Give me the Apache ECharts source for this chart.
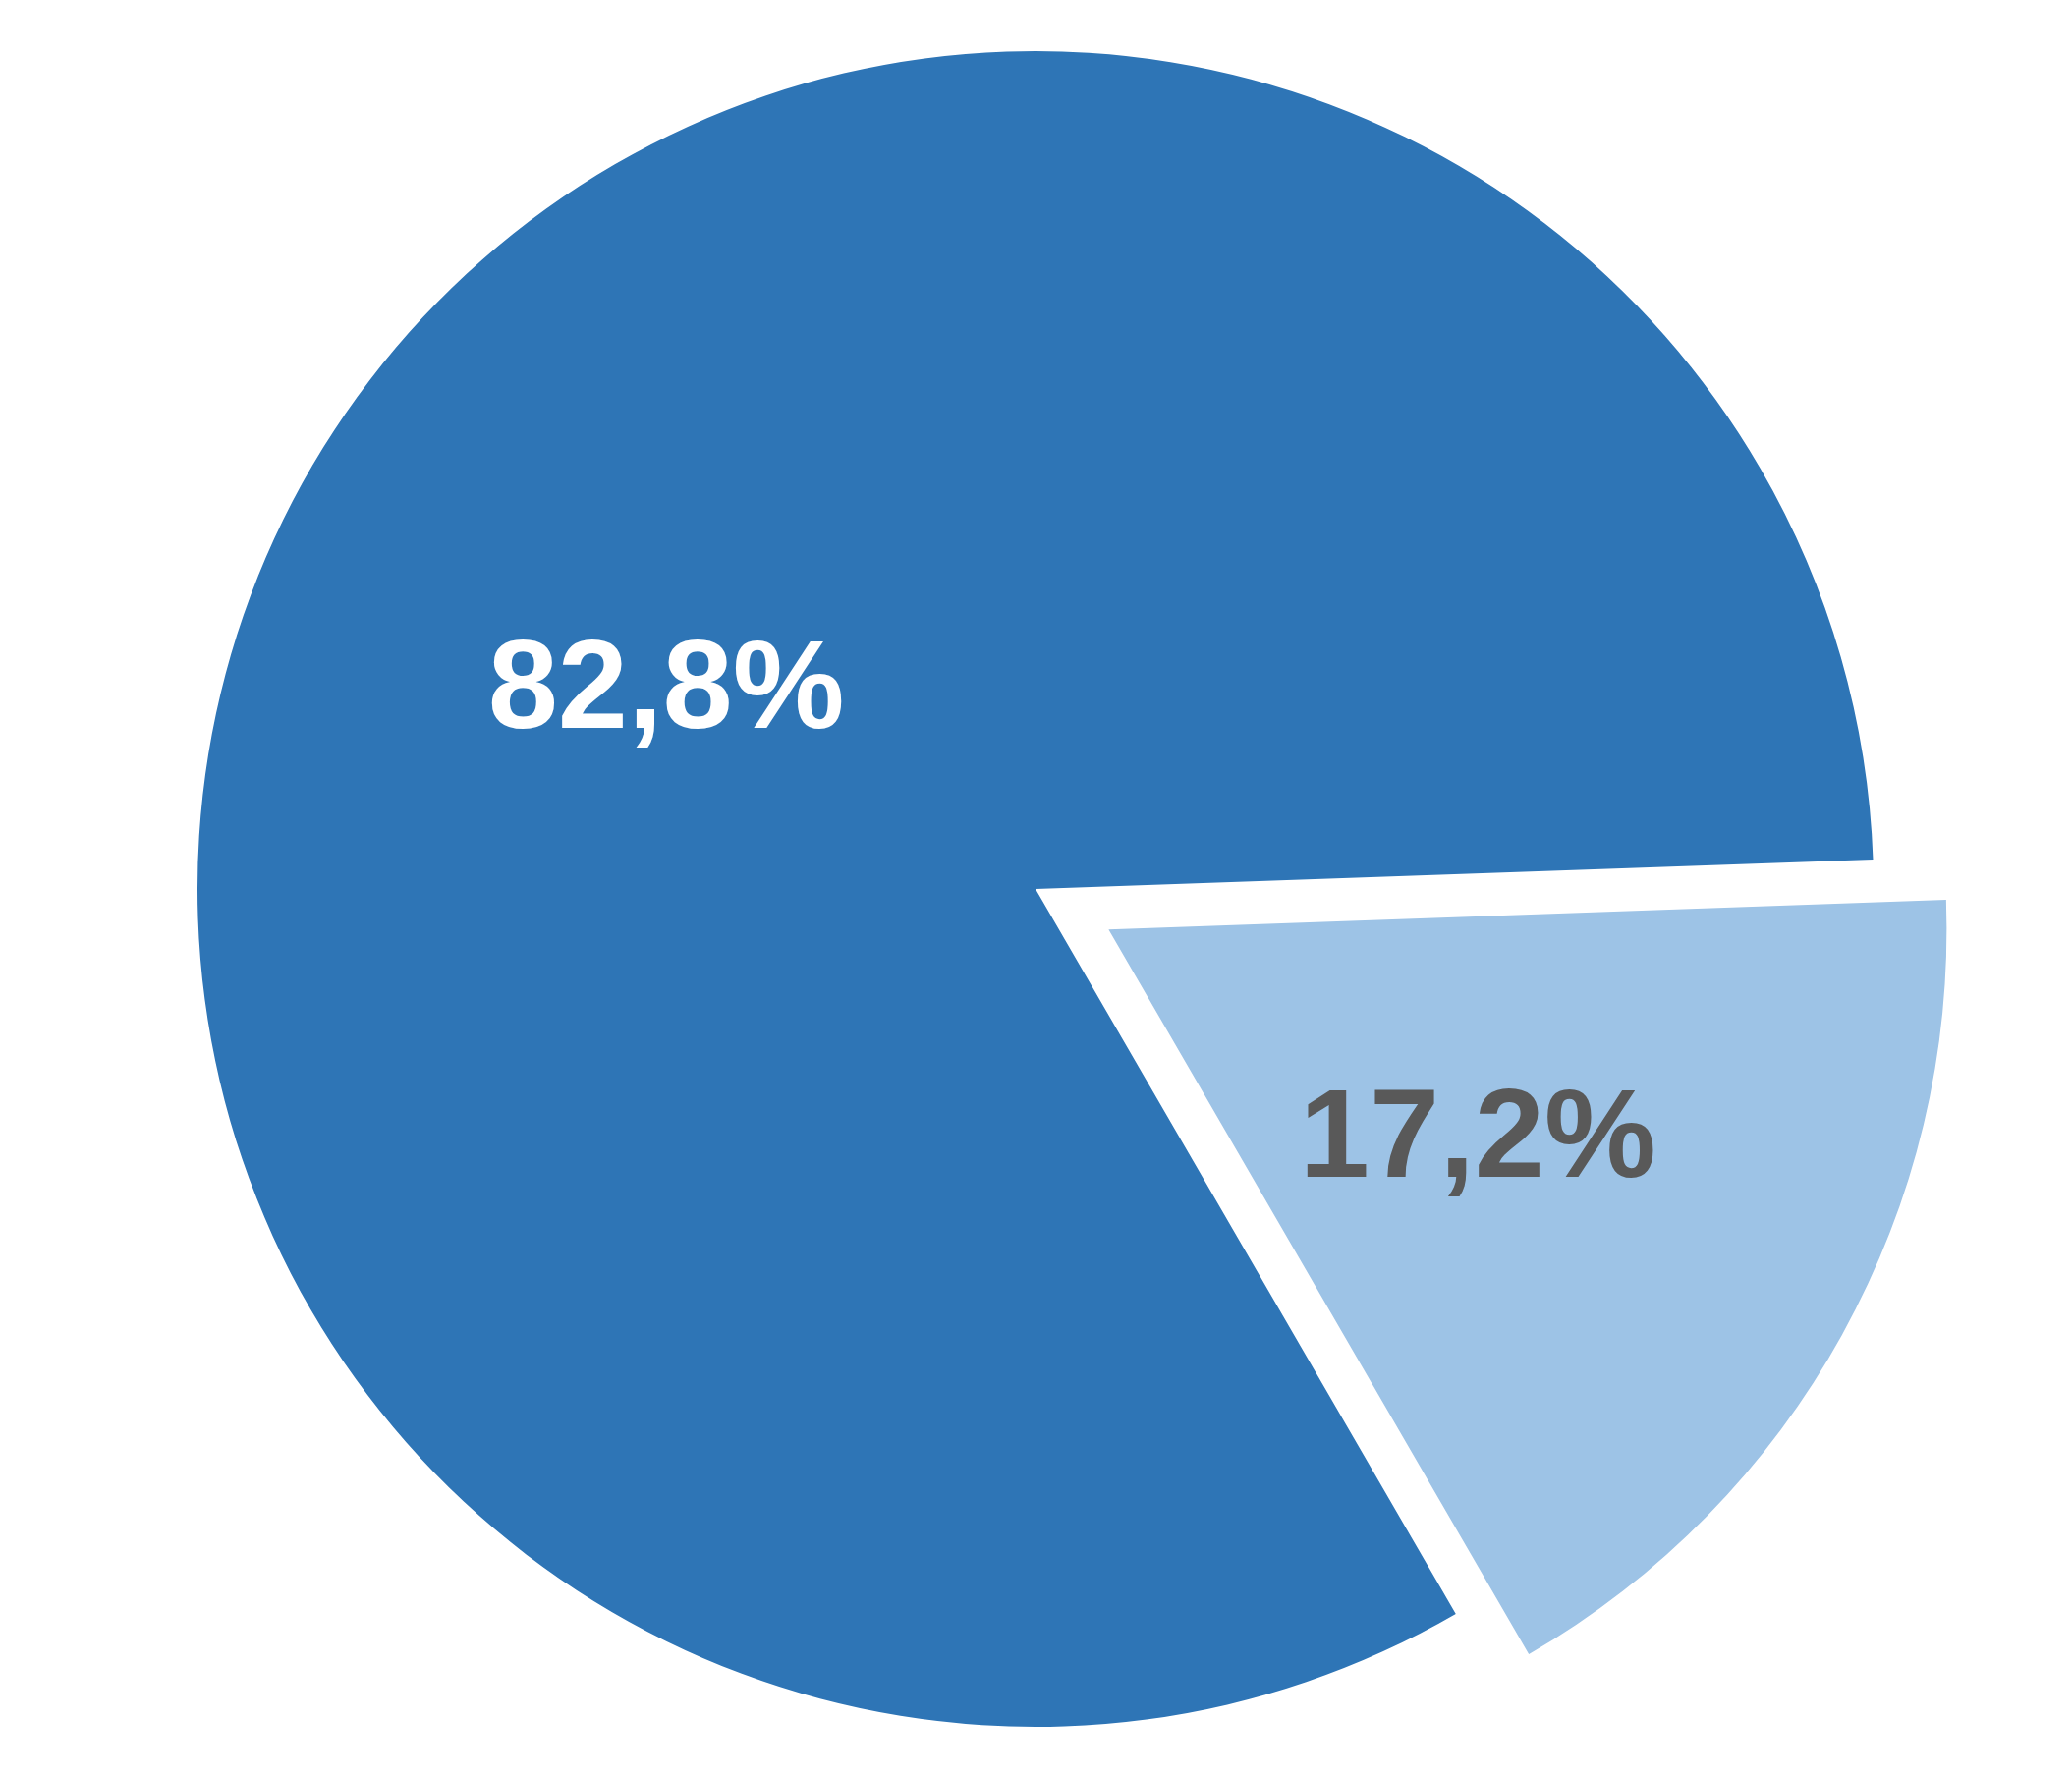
<!DOCTYPE html>
<html>
<head>
<meta charset="utf-8">
<script src="https://cdn.jsdelivr.net/npm/echarts@6/dist/echarts.min.js"></script>
<style>html,body{margin:0;padding:0;background:#fff}#c{width:2109px;height:1809px}</style>
</head>
<body>
<div id="c"></div>
<script>
const categories = ['A', 'B'];
const values = [82.8, 17.2];
const labels = ['82,8%', '17,2%'];

const chart = echarts.init(document.getElementById('c'), null, {renderer: 'canvas'});
chart.setOption({
  animation: false,
  backgroundColor: '#ffffff',
  series: [{
    type: 'pie',
    center: [1054, 905],
    radius: [0, 853],
    startAngle: -59.9,
    clockwise: true,
    selectedMode: 'single',
    selectedOffset: 85,
    avoidLabelOverlap: false,
    labelLine: {show: false},
    emphasis: {disabled: true},
    data: categories.map((c, i) => ({
      name: c,
      value: values[i],
      selected: i === 1,
      itemStyle: {color: i === 0 ? '#2E75B6' : '#9DC3E6'},
      label: {
        show: true,
        position: 'inside',
        formatter: '{s| }\n{a|' + labels[i] + '}',
        rich: {
          s: {fontSize: 1, lineHeight: 18},
          a: {
            color: i === 0 ? '#ffffff' : '#595959',
            fontFamily: 'Arial',
            fontWeight: 'bold',
            fontSize: 128,
            lineHeight: 150
          }
        }
      }
    }))
  }]
});
</script>
</body>
</html>
